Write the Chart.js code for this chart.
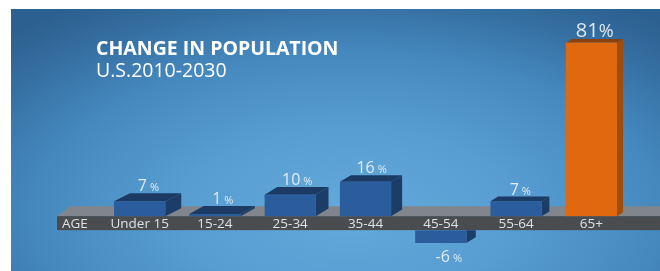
<!DOCTYPE html>
<html lang="en">
<head>
<meta charset="UTF-8">
<script src="https://cdn.jsdelivr.net/npm/chart.js@4.4.1/dist/chart.umd.min.js"></script>
<title>Change in population</title>
<style>
  html, body { margin: 0; padding: 0; background: #fff; }
  #wrap { position: relative; width: 660px; height: 271px; overflow: hidden; }
  #bg {
    position: absolute; left: 11px; top: 9px; right: 0; bottom: 0;
    background: radial-gradient(ellipse 75% 95% at 52% 78%, #64a9db 0%, #579dd1 35%, #4588bd 65%, #356fa2 85%, #2c6090 100%);
  }
  #chart { position: absolute; left: 0; top: 0; }
</style>
</head>
<body>
<div id="wrap">
  <div id="bg"></div>
  <canvas id="chart" width="660" height="271"></canvas>
</div>
<script>
const titleText = 'CHANGE IN POPULATION';
const subtitleText = 'U.S.2010-2030';
const axisName = 'AGE';
const ageGroups = ['Under 15', '15-24', '25-34', '35-44', '45-54', '55-64', '65+'];
const changePct = [7, 1, 10, 16, -6, 7, 81];
const highlightGroup = '65+';

const STRIP_H = 14;
const BLUE = { front: '#2b5c9b', top: '#1b3a64', side: '#1d3d69' };
const ORANGE = { front: '#e0690f', top: '#8c400b', side: '#a24c0c' };

function depthAt(x) {
    const dx = 16 - (x - 140) * 0.022;
    return { dx: dx, dy: Math.min(8, dx * 0.6) };
}

function poly(ctx, pts, color) {
    ctx.beginPath();
    ctx.moveTo(pts[0][0], pts[0][1]);
    for (let i = 1; i < pts.length; i++) ctx.lineTo(pts[i][0], pts[i][1]);
    ctx.closePath();
    ctx.fillStyle = color;
    ctx.fill();
}

function drawValue(ctx, value, cx, baseline, big) {
    const num = String(value);
    const fNum = big ? '20px "Open Sans"' : '16px "Open Sans"';
    const fPct = big ? '18px "Open Sans"' : '11px "Open Sans"';
    const gap = big ? 0 : 3;
    ctx.font = fNum;
    const wn = ctx.measureText(num).width;
    ctx.font = fPct;
    const wp = ctx.measureText('%').width;
    const start = cx - (wn + gap + wp) / 2;
    ctx.fillStyle = 'rgba(234, 240, 246, 0.94)';
    ctx.textAlign = 'left';
    ctx.textBaseline = 'alphabetic';
    ctx.font = fNum;
    ctx.fillText(num, start, baseline);
    ctx.font = fPct;
    ctx.fillText('%', start + wn + gap, baseline);
}

const boxes3d = {
    id: 'boxes3d',
    beforeDatasetsDraw(chart) {
        const ctx = chart.ctx;
        const zero = chart.scales.y.getPixelForValue(0);
        ctx.save();
        // platform top surface
        poly(ctx, [[57, zero], [70, zero - 10], [660, zero - 10], [660, zero]], '#80868c');
        // front strip
        ctx.fillStyle = '#4a4c50';
        ctx.fillRect(57, zero, 603, STRIP_H);
        ctx.restore();
    },
    beforeDatasetDraw(chart, args) {
        const ctx = chart.ctx;
        const meta = args.meta;
        meta.data.forEach((el, i) => {
            const big = ageGroups[i] === highlightGroup;
            const c = big ? ORANGE : BLUE;
            const l = el.x - el.width / 2, r = el.x + el.width / 2;
            const { dx, dy } = depthAt(el.x);
            ctx.save();
            if (changePct[i] >= 0) {
                const top = el.y, base = el.base;
                poly(ctx, [[r, top], [r + dx, top - dy], [r + dx, base - dy], [r, base]], c.side);
                poly(ctx, [[l, top], [l + dx, top - dy], [r + dx, top - dy], [r, top]], c.top);
                ctx.fillStyle = c.front;
                ctx.fillRect(l, top, el.width, base - top);
                drawValue(ctx, changePct[i], el.x + dx * 0.55, top - dy - 2, big);
            } else {
                const top = el.base + STRIP_H, bottom = el.y + STRIP_H;
                ctx.beginPath();
                ctx.rect(0, top, chart.width, chart.height);
                ctx.clip();
                poly(ctx, [[r, top], [r + dx, top - dy], [r + dx, bottom - dy], [r, bottom]], c.side);
                ctx.fillStyle = c.front;
                ctx.fillRect(l, top, el.width, bottom - top);
                ctx.restore();
                ctx.save();
                drawValue(ctx, changePct[i], el.x + 8, bottom + 19, false);
            }
            ctx.restore();
        });
        return false;
    },
    afterDraw(chart) {
        const ctx = chart.ctx;
        const xs = chart.scales.x;
        const zero = chart.scales.y.getPixelForValue(0);
        ctx.save();
        ctx.fillStyle = '#ffffff';
        ctx.textAlign = 'left';
        ctx.textBaseline = 'alphabetic';
        ctx.font = 'bold 19.5px "Open Sans"';
        ctx.fillText(titleText, 96, 55);
        ctx.font = '19.5px "Open Sans"';
        ctx.fillText(subtitleText, 96, 77);
        // category labels inside the strip, placed by the x scale
        ctx.fillStyle = '#dde2e7';
        ctx.font = '13.5px "Open Sans"';
        ctx.textBaseline = 'middle';
        ctx.fillText(axisName, 62, zero + STRIP_H / 2 + 1);
        ctx.textAlign = 'center';
        xs.ticks.forEach((t, i) => {
            ctx.fillText(xs.getLabelForValue(t.value), xs.getPixelForTick(i), zero + STRIP_H / 2 + 1);
        });
        ctx.restore();
    }
};

new Chart(document.getElementById('chart'), {
    type: 'bar',
    data: {
        labels: ageGroups,
        datasets: [{
            data: changePct,
            backgroundColor: ctx => ageGroups[ctx.dataIndex] === highlightGroup ? ORANGE.front : BLUE.front,
            barPercentage: 0.68,
            categoryPercentage: 1
        }]
    },
    options: {
        responsive: false,
        animation: false,
        devicePixelRatio: 1,
        layout: { padding: { left: 102, right: 31, top: 34, bottom: 12 } },
        plugins: { legend: { display: false }, tooltip: { enabled: false } },
        scales: {
            y: { display: false, min: -20, max: 85 },
            x: { display: false }
        }
    },
    plugins: [boxes3d]
});
</script>
</body>
</html>
